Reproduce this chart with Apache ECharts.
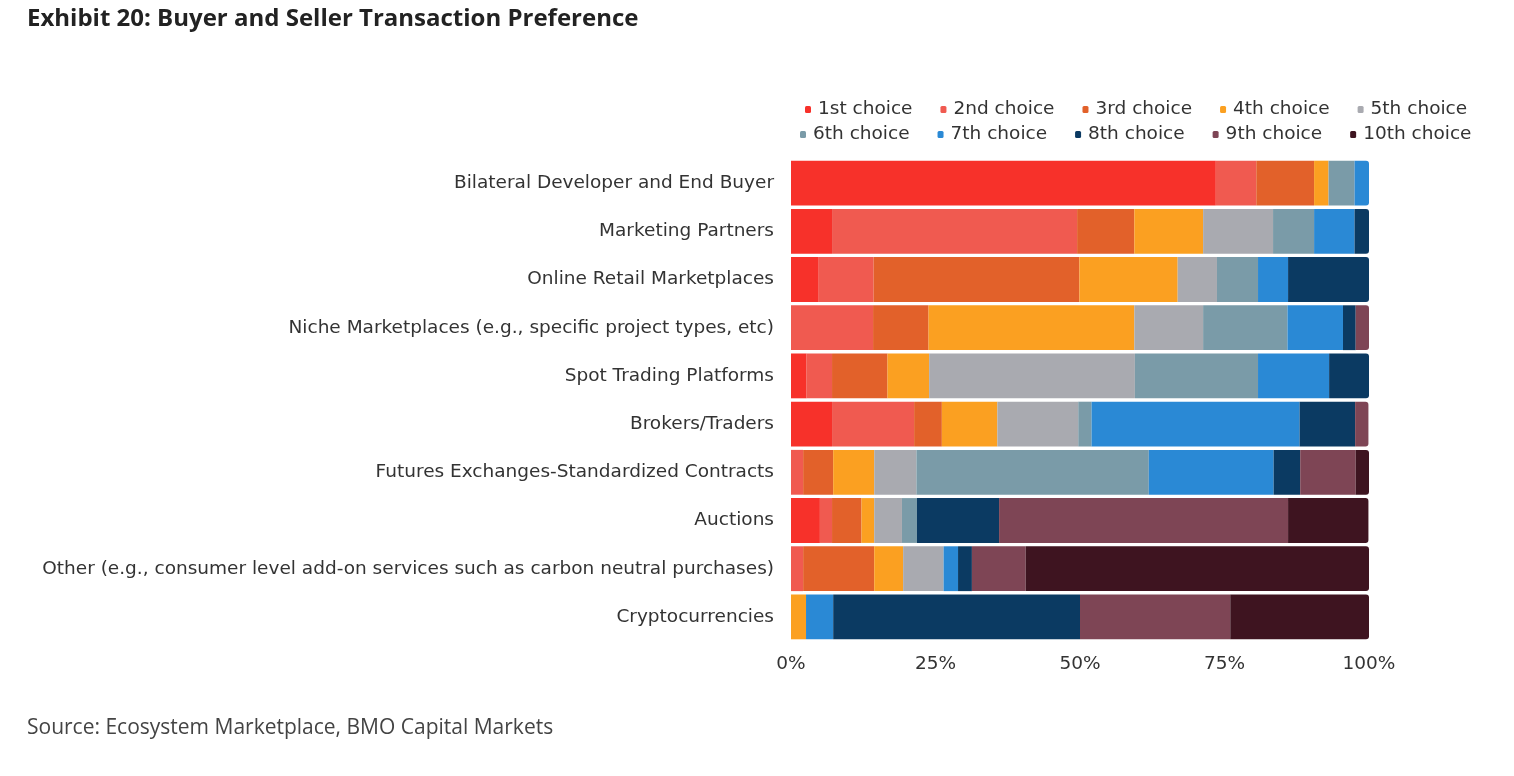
<!DOCTYPE html>
<html><head><meta charset="utf-8">
<script src="https://cdn.jsdelivr.net/npm/echarts@6/dist/echarts.min.js"></script>
<style>html,body{margin:0;padding:0;background:#fff;}#c{width:1514px;height:776px;}</style>
</head><body><div id="c"></div>
<script>
const categories = [
  "Bilateral Developer and End Buyer",
  "Marketing Partners",
  "Online Retail Marketplaces",
  "Niche Marketplaces (e.g., specific project types, etc)",
  "Spot Trading Platforms",
  "Brokers/Traders",
  "Futures Exchanges-Standardized Contracts",
  "Auctions",
  "Other (e.g., consumer level add-on services such as carbon neutral purchases)",
  "Cryptocurrencies"
];
const seriesNames = ["1st choice","2nd choice","3rd choice","4th choice","5th choice","6th choice","7th choice","8th choice","9th choice","10th choice"];
const choice1  = [73.5, 7.1, 4.8, 0, 2.7, 7.1, 0, 5.0, 0, 0];
const choice2  = [7.0, 42.4, 9.5, 14.2, 4.4, 14.2, 2.1, 2.1, 2.1, 0];
const choice3  = [10.0, 9.9, 35.6, 9.6, 9.6, 4.8, 5.2, 5.1, 12.3, 0];
const choice4  = [2.5, 11.9, 17.0, 35.6, 7.2, 9.6, 7.1, 2.2, 5.0, 2.6];
const choice5  = [0, 12.1, 6.8, 11.9, 35.6, 14.0, 7.3, 4.8, 7.0, 0];
const choice6  = [4.5, 7.1, 7.1, 14.6, 21.3, 2.3, 40.2, 2.6, 0, 0];
const choice7  = [2.5, 7.0, 5.2, 9.6, 12.3, 36.0, 21.6, 0, 2.5, 4.7];
const choice8  = [0, 2.5, 14.0, 2.2, 7.0, 9.6, 4.6, 14.2, 2.4, 42.7];
const choice9  = [0, 0, 0, 2.3, 0, 2.3, 9.6, 50.0, 9.3, 26.0];
const choice10 = [0, 0, 0, 0, 0, 0, 2.3, 13.9, 59.4, 24.0];
const xTicks = [0, 25, 50, 75, 100];

const colors = ["#F7312A","#F05A50","#E2612A","#FBA021","#A9AAB0","#7A9BA8","#2A89D5","#0B3A62","#7E4555","#3E1420"];
const allData = [choice1,choice2,choice3,choice4,choice5,choice6,choice7,choice8,choice9,choice10];

const lastIdx = categories.map((_, r) => {
  let li = 0;
  allData.forEach((arr, s) => { if (arr[r] > 0) li = s; });
  return li;
});

const font = "DejaVu Sans";
const series = allData.map((arr, s) => ({
  name: seriesNames[s],
  type: 'bar',
  stack: 'total',
  barCategoryGap: '7%',
  itemStyle: { color: colors[s] },
  emphasis: { disabled: true },
  data: arr.map((v, r) => lastIdx[r] === s
    ? { value: v, itemStyle: { borderRadius: [0, 3, 3, 0] } }
    : v)
}));

const legendCommon = {
  icon: 'roundRect',
  itemWidth: 6, itemHeight: 7,
  itemGap: 28,
  padding: 0,
  textStyle: { fontFamily: font, fontSize: 18.5, color: '#333', padding: [0, 0, 0, 2] },
  orient: 'horizontal'
};

const chart = echarts.init(document.getElementById('c'), null, { renderer: 'canvas' });
chart.setOption({
  animation: false,
  color: colors,
  title: [
    { text: 'Exhibit 20: Buyer and Seller Transaction Preference', left: 27, top: 7, padding: 0,
      textStyle: { fontFamily: 'Open Sans', fontWeight: 'bold', fontSize: 24, color: '#222' } },
    { text: 'Source: Ecosystem Marketplace, BMO Capital Markets', left: 27, top: 718, padding: 0,
      textStyle: { fontFamily: 'Open Sans', fontWeight: 'normal', fontSize: 21, color: '#444' } }
  ],
  legend: [
    Object.assign({}, legendCommon, { left: 805, top: 100, data: seriesNames.slice(0, 5) }),
    Object.assign({}, legendCommon, { left: 800, top: 125, data: seriesNames.slice(5) })
  ],
  grid: { left: 791, right: 145, top: 159, bottom: 135, containLabel: false },
  xAxis: {
    type: 'value', min: 0, max: 100, interval: 25,
    axisLine: { show: false }, axisTick: { show: false }, splitLine: { show: false },
    axisLabel: { formatter: v => xTicks.includes(v) ? v + '%' : '', fontFamily: font, fontSize: 18.5, color: '#333', margin: 14 }
  },
  yAxis: {
    type: 'category', inverse: true, data: categories,
    axisLine: { show: false }, axisTick: { show: false },
    axisLabel: { fontFamily: font, fontSize: 18.5, color: '#333', margin: 17 }
  },
  series: series
});
</script></body></html>
